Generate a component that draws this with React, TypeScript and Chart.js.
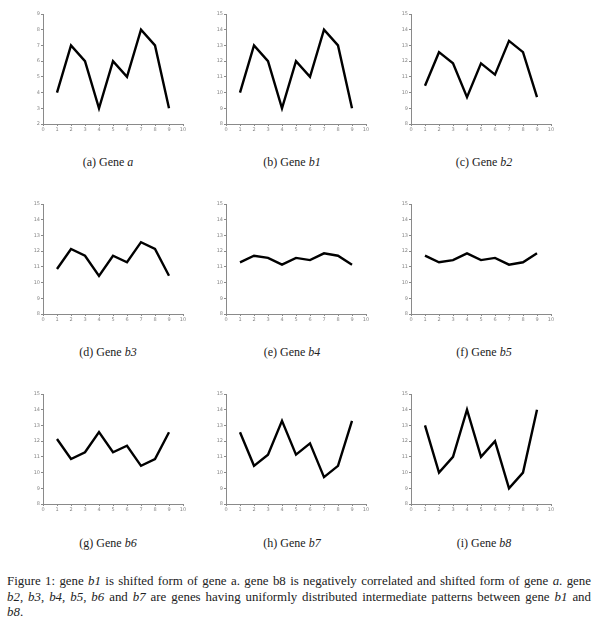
import React, { useEffect, useRef } from "react";
import { Chart, registerables } from "chart.js";

Chart.register(...registerables);

const xs = [1, 2, 3, 4, 5, 6, 7, 8, 9];
const geneA = [4, 7, 6, 3, 6, 5, 8, 7, 3];
const geneB1 = [10, 13, 12, 9, 12, 11, 14, 13, 9];
const geneB2 = [10.43, 12.57, 11.86, 9.71, 11.86, 11.14, 13.29, 12.57, 9.71];
const geneB3 = [10.86, 12.14, 11.71, 10.43, 11.71, 11.29, 12.57, 12.14, 10.43];
const geneB4 = [11.29, 11.71, 11.57, 11.14, 11.57, 11.43, 11.86, 11.71, 11.14];
const geneB5 = [11.71, 11.29, 11.43, 11.86, 11.43, 11.57, 11.14, 11.29, 11.86];
const geneB6 = [12.14, 10.86, 11.29, 12.57, 11.29, 11.71, 10.43, 10.86, 12.57];
const geneB7 = [12.57, 10.43, 11.14, 13.29, 11.14, 11.86, 9.71, 10.43, 13.29];
const geneB8 = [13, 10, 11, 14, 11, 12, 9, 10, 14];

const xRange = [0, 10];
const yRangeA = [2, 9];
const yRangeB = [8, 15];

const captionLetters = ["a", "b", "c", "d", "e", "f", "g", "h", "i"];
const geneNames = ["a", "b1", "b2", "b3", "b4", "b5", "b6", "b7", "b8"];
const seriesList = [geneA, geneB1, geneB2, geneB3, geneB4, geneB5, geneB6, geneB7, geneB8];
const yRanges = [yRangeA, yRangeB, yRangeB, yRangeB, yRangeB, yRangeB, yRangeB, yRangeB, yRangeB];

// layout
const colAxisX = [43, 226, 411];
const rowTop = [14, 204, 394];
const captionCX = [108, 292, 484];
const captionCY = [162, 352, 543];
const plotW = 140;
const plotH = 110;
const padL = 8;
const yAxisW = 12;
const padT = 6;
const xAxisH = 12;
const padB = 2;
const padR = 10;
const canvasW = padL + yAxisW + plotW + padR;
const canvasH = padT + plotH + xAxisH + padB;

const serif = "'Liberation Serif', 'DejaVu Serif', serif";

function Panel({ idx }: { idx: number }) {
  const ref = useRef<HTMLCanvasElement | null>(null);
  const col = idx % 3;
  const row = Math.floor(idx / 3);
  useEffect(() => {
    if (!ref.current) return;
    const yr = yRanges[idx];
    const axisColor = "#8a8a8a";
    const chart = new Chart(ref.current, {
      type: "line",
      data: {
        datasets: [
          {
            data: xs.map((x, i) => ({ x, y: seriesList[idx][i] })),
            borderColor: "#000",
            borderWidth: 2.4,
            pointRadius: 0,
            tension: 0,
            fill: false,
          },
        ],
      },
      options: {
        animation: false,
        responsive: false,
        maintainAspectRatio: false,
        layout: { padding: { left: padL, top: padT, right: padR, bottom: padB } },
        plugins: { legend: { display: false }, tooltip: { enabled: false } },
        scales: {
          x: {
            type: "linear",
            min: xRange[0],
            max: xRange[1],
            afterFit: (s: any) => {
              s.height = xAxisH;
            },
            ticks: { stepSize: 1, font: { size: 5, family: "DejaVu Sans" }, color: "#888", padding: 1, maxRotation: 0 },
            grid: { drawOnChartArea: false, drawTicks: true, tickLength: 2, color: axisColor },
            border: { display: true, color: axisColor, width: 1 },
          },
          y: {
            min: yr[0],
            max: yr[1],
            afterFit: (s: any) => {
              s.width = yAxisW;
            },
            ticks: { stepSize: 1, font: { size: 5, family: "DejaVu Sans" }, color: "#888", padding: 1 },
            grid: { drawOnChartArea: false, drawTicks: true, tickLength: 2, color: axisColor },
            border: { display: true, color: axisColor, width: 1 },
          },
        },
      },
    });
    return () => chart.destroy();
  }, [idx]);

  const left = colAxisX[col] - padL - yAxisW;
  const top = rowTop[row] - padT;
  return (
    <>
      <canvas
        ref={ref}
        width={canvasW}
        height={canvasH}
        style={{ position: "absolute", left, top, width: canvasW, height: canvasH }}
      />
      <div
        style={{
          position: "absolute",
          left: captionCX[col] - 60,
          top: captionCY[row] - 8,
          width: 120,
          textAlign: "center",
          fontFamily: serif,
          fontSize: 12,
          lineHeight: "16px",
          color: "#222",
        }}
      >
        ({captionLetters[idx]}) Gene <i>{geneNames[idx]}</i>
      </div>
    </>
  );
}

const lineStyle: React.CSSProperties = {
  width: 584,
  whiteSpace: "nowrap",
  textAlign: "justify",
  textAlignLast: "justify" as any,
  height: 15.5,
  lineHeight: "15.5px",
};

export default function App() {
  return (
    <div
      style={{
        position: "absolute",
        left: 0,
        top: 0,
        width: 600,
        height: 632,
        background: "#fff",
        overflow: "hidden",
      }}
    >
      {seriesList.map((_, i) => (
        <Panel key={i} idx={i} />
      ))}
      <div
        style={{
          position: "absolute",
          left: 7,
          top: 574,
          width: 584,
          fontFamily: serif,
          fontSize: 12.9,
          color: "#222",
        }}
      >
        <div style={lineStyle}>
          Figure 1: gene <i>b1</i> is shifted form of gene a. gene b8 is negatively correlated and shifted form of gene <i>a</i>. gene
        </div>
        <div style={lineStyle}>
          <i>b2</i>, <i>b3</i>, <i>b4</i>, <i>b5</i>, <i>b6</i> and <i>b7</i> are genes having uniformly distributed intermediate patterns between gene <i>b1</i> and
        </div>
        <div style={{ height: 15.5, lineHeight: "15.5px" }}>
          <i>b8</i>.
        </div>
      </div>
    </div>
  );
}
